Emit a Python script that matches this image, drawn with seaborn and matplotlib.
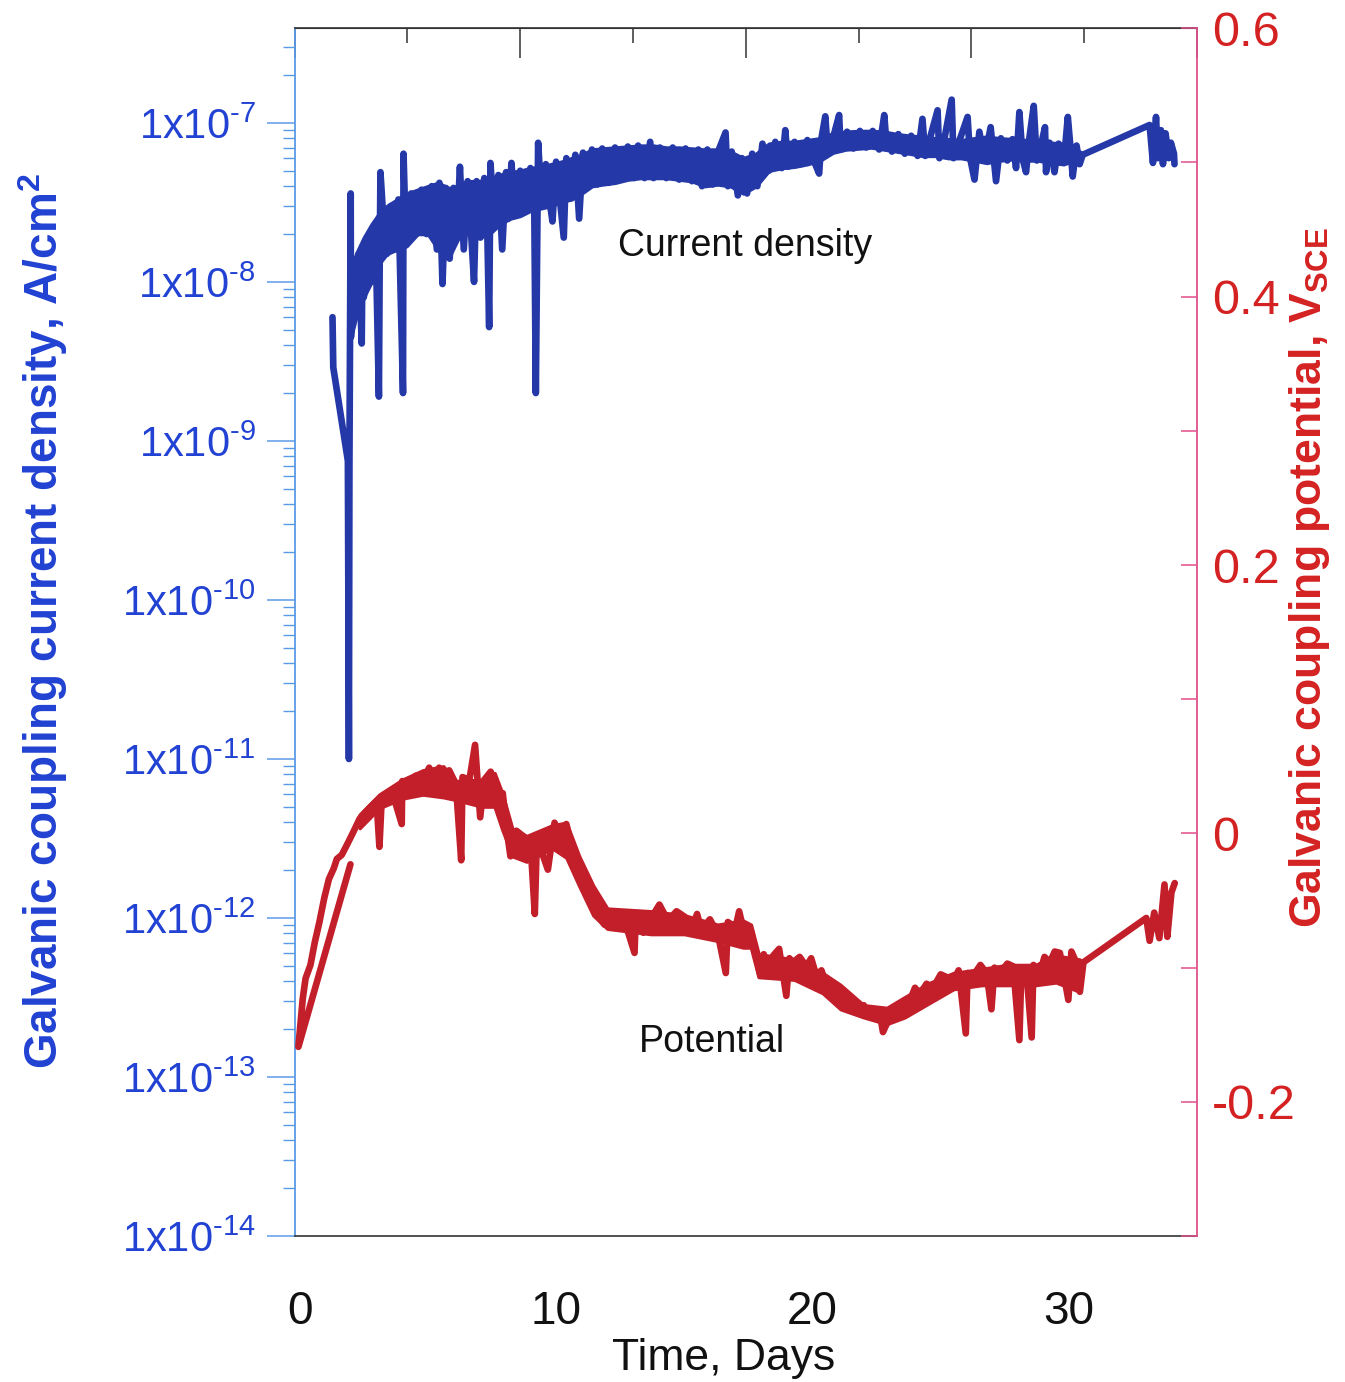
import matplotlib
matplotlib.use('Agg')
import matplotlib.pyplot as plt
import matplotlib.ticker as mticker
import numpy as np
import pandas as pd
import seaborn as sns

# ---------------------------------------------------------------------
# values

# galvanic coupling current density, A/cm2 (left axis, log) - the trace
cd_days = [1.28, 1.31, 1.88, 1.92, 1.94, 1.99, 2.00, 2.10, 2.20, 2.30,
           2.42, 2.45, 2.50, 2.65, 2.80, 2.95, 3.09, 3.12, 3.15, 3.25,
           3.40, 3.55, 3.70, 3.85, 4.03, 4.05, 4.15, 4.35, 4.55, 4.75,
           4.95, 5.15, 5.35, 5.45, 5.57, 5.70, 5.85, 6.00, 6.12, 6.25,
           6.40, 6.55, 6.68, 6.80, 6.90, 7.05, 7.20, 7.32, 7.39, 7.44,
           7.60, 7.75, 7.90, 8.05, 8.15, 8.26, 8.40, 8.60, 8.80, 9.00,
           9.15, 9.21, 9.30, 9.45, 9.60, 9.75, 9.86, 10.00, 10.15, 10.30,
           10.40, 10.60, 10.75, 10.90, 11.05, 11.20, 11.40, 11.60, 11.80, 12.05,
           12.30, 12.55, 12.80, 13.05, 13.20, 13.45, 13.67, 13.80, 14.05, 14.30,
           14.55, 14.80, 15.05, 15.30, 15.55, 15.69, 15.90, 16.10, 16.35, 16.61,
           16.70, 16.85, 17.09, 17.25, 17.45, 17.65, 17.85, 18.05, 18.30, 18.55,
           18.80, 18.94, 19.05, 19.30, 19.55, 19.80, 20.05, 20.26, 20.35, 20.50,
           20.60, 20.85, 21.04, 21.10, 21.35, 21.60, 21.85, 22.10, 22.35, 22.60,
           22.80, 22.85, 23.10, 23.35, 23.60, 23.85, 24.10, 24.29, 24.40, 24.60,
           24.88, 24.95, 25.15, 25.43, 25.50, 25.75, 26.05, 26.15, 26.32, 26.51,
           26.70, 26.95, 27.16, 27.35, 27.60, 27.80, 27.94, 28.07, 28.20, 28.33,
           28.45, 28.63, 28.75, 28.95, 29.07, 29.11, 29.25, 29.44, 29.60, 29.80,
           29.96, 30.05, 30.15, 30.30, 30.42, 30.54, 33.15, 33.28, 33.40, 33.47,
           33.59, 33.67, 33.77, 33.90, 33.98, 34.10, 34.12]
cd_vals = [6.0e-9, 2.9e-9, 7.5e-10, 1.0e-11, 7.0e-10, 3.6e-8, 4.5e-9, 1.2e-8, 6.0e-9, 1.5e-8,
           4.1e-9, 1.6e-8, 8.0e-9, 1.9e-8, 1.0e-8, 2.3e-8, 1.9e-9, 1.3e-8, 4.9e-8, 2.7e-8,
           1.5e-8, 3.0e-8, 1.6e-8, 3.3e-8, 2.0e-9, 6.4e-8, 1.7e-8, 3.6e-8, 2.0e-8, 3.8e-8,
           2.0e-8, 4.0e-8, 1.6e-8, 4.2e-8, 9.7e-9, 3.9e-8, 1.4e-8, 3.9e-8, 1.9e-8, 5.3e-8,
           1.6e-8, 4.3e-8, 2.1e-8, 1.0e-8, 4.3e-8, 1.9e-8, 4.5e-8, 2.0e-8, 5.2e-9, 5.6e-8,
           2.3e-8, 4.7e-8, 1.6e-8, 4.9e-8, 2.5e-8, 5.6e-8, 2.6e-8, 5.0e-8, 2.8e-8, 5.2e-8,
           2.9e-8, 2.0e-9, 7.5e-8, 3.0e-8, 5.5e-8, 3.2e-8, 2.4e-8, 5.7e-8, 3.3e-8, 1.9e-8,
           6.0e-8, 3.6e-8, 6.3e-8, 2.5e-8, 6.5e-8, 4.0e-8, 6.8e-8, 4.1e-8, 6.9e-8, 4.2e-8,
           7.0e-8, 4.4e-8, 7.1e-8, 4.5e-8, 7.2e-8, 4.5e-8, 7.6e-8, 4.5e-8, 7.0e-8, 4.5e-8,
           7.0e-8, 4.4e-8, 6.9e-8, 4.3e-8, 6.8e-8, 4.0e-8, 6.8e-8, 4.1e-8, 6.8e-8, 8.7e-8,
           4.0e-8, 6.6e-8, 3.5e-8, 6.0e-8, 3.6e-8, 6.4e-8, 4.0e-8, 7.4e-8, 5.0e-8, 7.6e-8,
           5.2e-8, 9.0e-8, 5.3e-8, 7.6e-8, 5.5e-8, 7.8e-8, 5.8e-8, 4.8e-8, 8.0e-8, 1.1e-7,
           6.5e-8, 8.6e-8, 1.12e-7, 6.8e-8, 8.8e-8, 6.9e-8, 8.9e-8, 7.0e-8, 8.9e-8, 6.8e-8,
           1.12e-7, 8.8e-8, 6.6e-8, 8.5e-8, 6.4e-8, 8.3e-8, 6.2e-8, 1.06e-7, 6.2e-8, 8.2e-8,
           1.2e-7, 6.0e-8, 8.0e-8, 1.4e-7, 6.0e-8, 7.9e-8, 1.09e-7, 6.0e-8, 4.4e-8, 8.8e-8,
           5.8e-8, 9.4e-8, 4.3e-8, 8.0e-8, 5.8e-8, 7.9e-8, 5.2e-8, 1.17e-7, 5.9e-8, 4.9e-8,
           7.8e-8, 1.28e-7, 5.8e-8, 7.7e-8, 9.4e-8, 4.9e-8, 7.5e-8, 4.9e-8, 7.4e-8, 5.6e-8,
           1.09e-7, 7.4e-8, 4.6e-8, 7.2e-8, 5.5e-8, 6.3e-8, 9.7e-8, 5.6e-8, 1.09e-7, 6.0e-8,
           9.0e-8, 5.5e-8, 8.6e-8, 6.0e-8, 7.5e-8, 6.4e-8, 5.5e-8]

# edges of the dense noise band of the current density
cd_band_days = [2.0, 2.2, 2.5, 2.8, 3.1, 3.4, 3.8, 4.2, 4.6, 5.0,
                5.4, 5.8, 6.2, 6.6, 7.0, 7.4, 7.8, 8.2, 8.6, 9.0,
                9.4, 9.8, 10.2, 10.6, 11.0, 11.4, 11.8, 12.3, 12.8, 13.3,
                13.8, 14.3, 14.8, 15.3, 15.8, 16.3, 16.8, 17.3, 17.8, 18.3,
                18.8, 19.3, 19.8, 20.3, 20.8, 21.3, 21.8, 22.3, 22.8, 23.3,
                23.8, 24.3, 24.8, 25.3, 25.8, 26.3, 26.8, 27.3, 27.8, 28.3,
                28.8, 29.3, 29.8, 30.5]
cd_band_hi = [1.2e-8, 1.5e-8, 1.9e-8, 2.3e-8, 2.7e-8, 3.0e-8, 3.3e-8, 3.6e-8, 3.8e-8, 4.0e-8,
              4.2e-8, 3.9e-8, 3.9e-8, 4.3e-8, 4.3e-8, 4.5e-8, 4.7e-8, 4.9e-8, 5.0e-8, 5.2e-8,
              5.3e-8, 5.5e-8, 5.7e-8, 6.0e-8, 6.3e-8, 6.8e-8, 6.9e-8, 7.0e-8, 7.1e-8, 7.2e-8,
              7.2e-8, 7.0e-8, 7.0e-8, 6.9e-8, 6.8e-8, 6.8e-8, 6.6e-8, 6.0e-8, 6.4e-8, 7.4e-8,
              7.6e-8, 7.6e-8, 7.8e-8, 8.0e-8, 8.6e-8, 8.8e-8, 8.9e-8, 8.9e-8, 8.8e-8, 8.5e-8,
              8.3e-8, 8.2e-8, 8.0e-8, 7.9e-8, 7.8e-8, 8.0e-8, 8.2e-8, 8.0e-8, 7.9e-8, 7.8e-8,
              7.7e-8, 7.5e-8, 7.4e-8, 6.5e-8]
cd_band_lo = [4.5e-9, 6.0e-9, 8.0e-9, 1.0e-8, 1.3e-8, 1.5e-8, 1.6e-8, 1.7e-8, 2.0e-8, 2.0e-8,
              1.6e-8, 1.4e-8, 1.9e-8, 2.1e-8, 1.9e-8, 2.0e-8, 2.3e-8, 2.5e-8, 2.6e-8, 2.8e-8,
              2.9e-8, 3.0e-8, 3.2e-8, 3.3e-8, 3.6e-8, 4.0e-8, 4.1e-8, 4.2e-8, 4.4e-8, 4.5e-8,
              4.5e-8, 4.5e-8, 4.4e-8, 4.3e-8, 4.0e-8, 4.1e-8, 4.0e-8, 3.6e-8, 4.0e-8, 5.0e-8,
              5.2e-8, 5.3e-8, 5.5e-8, 5.8e-8, 6.5e-8, 6.8e-8, 6.9e-8, 7.0e-8, 6.8e-8, 6.6e-8,
              6.4e-8, 6.2e-8, 6.2e-8, 6.0e-8, 6.0e-8, 5.8e-8, 5.6e-8, 5.8e-8, 5.9e-8, 5.8e-8,
              5.8e-8, 5.6e-8, 5.5e-8, 6.0e-8]

# galvanic coupling potential, V_SCE (right axis) - the trace
pot_days = [1.98, -0.05, 0.12, 0.23, 0.42, 0.59, 0.77, 0.96, 1.14, 1.33,
            1.45, 1.64, 1.83, 2.09, 2.34, 2.72, 3.00, 3.11, 3.20, 3.49,
            3.70, 3.98, 4.00, 4.30, 4.53, 4.80, 5.05, 5.25, 5.44, 5.65,
            5.83, 6.09, 6.30, 6.35, 6.62, 6.84, 7.04, 7.20, 7.45, 7.70,
            7.92, 8.06, 8.22, 8.45, 8.72, 9.00, 9.17, 9.25, 9.41, 9.68,
            9.94, 10.20, 10.40, 10.60, 10.86, 11.10, 11.36, 11.63, 11.89, 12.15,
            12.41, 12.75, 13.06, 13.10, 13.40, 13.71, 14.03, 14.36, 14.70, 15.01,
            15.30, 15.50, 15.66, 16.00, 16.31, 16.62, 16.70, 17.00, 17.14, 17.35,
            17.59, 17.97, 18.10, 18.20, 18.47, 18.70, 18.98, 19.10, 19.24, 19.50,
            19.76, 19.95, 20.15, 20.35, 20.54, 20.80, 21.06, 21.32, 21.50, 21.71,
            22.00, 22.20, 22.36, 22.60, 22.75, 23.01, 23.20, 23.40, 23.60, 23.79,
            24.00, 24.18, 24.45, 24.71, 25.00, 25.23, 25.49, 25.70, 25.98, 26.05,
            26.27, 26.55, 26.79, 26.98, 27.10, 27.31, 27.60, 27.83, 28.07, 28.15,
            28.35, 28.55, 28.62, 28.87, 29.05, 29.26, 29.45, 29.65, 29.98, 30.10,
            30.24, 30.43, 30.57, 33.02, 33.15, 33.33, 33.53, 33.73, 33.84, 34.00,
            34.13]
pot_vals = [-0.023, -0.159, -0.123, -0.108, -0.098, -0.081, -0.066, -0.048, -0.034, -0.026,
            -0.019, -0.016, -0.009, 0.001, 0.011, 0.019, 0.024, -0.010, 0.026, 0.031,
            0.025, 0.007, 0.039, 0.034, 0.043, 0.038, 0.049, 0.040, 0.049, 0.041,
            0.047, 0.037, -0.020, 0.042, 0.040, 0.066, 0.012, 0.040, 0.046, 0.025,
            0.030, 0.005, -0.017, 0.002, -0.002, -0.006, -0.060, -0.005, -0.012, -0.027,
            0.008, -0.005, 0.007, -0.009, -0.021, -0.039, -0.048, -0.061, -0.068, -0.058,
            -0.063, -0.070, -0.089, -0.065, -0.074, -0.063, -0.053, -0.065, -0.058, -0.062,
            -0.070, -0.060, -0.072, -0.064, -0.075, -0.104, -0.066, -0.070, -0.058, -0.075,
            -0.072, -0.106, -0.090, -0.104, -0.091, -0.086, -0.121, -0.093, -0.096, -0.092,
            -0.099, -0.093, -0.106, -0.102, -0.113, -0.111, -0.121, -0.128, -0.124, -0.130,
            -0.128, -0.136, -0.133, -0.131, -0.148, -0.137, -0.132, -0.135, -0.126, -0.125,
            -0.115, -0.120, -0.112, -0.115, -0.105, -0.107, -0.110, -0.102, -0.149, -0.104,
            -0.106, -0.098, -0.104, -0.131, -0.100, -0.104, -0.097, -0.099, -0.154, -0.100,
            -0.104, -0.152, -0.098, -0.104, -0.092, -0.096, -0.088, -0.089, -0.124, -0.088,
            -0.094, -0.118, -0.096, -0.063, -0.080, -0.059, -0.078, -0.038, -0.077, -0.044,
            -0.037]

# edges of the noise band of the potential
pot_band_days = [2.34, 3.11, 4.0, 4.8, 5.6, 6.1, 7.1, 7.6, 7.9, 8.3,
                 8.85, 9.85, 10.4, 10.9, 11.45, 12.0, 13.7, 15.0, 16.3, 17.3,
                 17.6, 17.9, 19.3, 20.4, 21.1, 22.0, 22.9, 23.6, 24.5, 25.5,
                 26.6, 27.6, 28.7, 29.5, 30.43]
pot_band_hi = [0.014, 0.029, 0.040, 0.047, 0.050, 0.039, 0.040, 0.045, 0.030, 0.003,
               -0.002, 0.006, 0.008, -0.017, -0.039, -0.056, -0.058, -0.061, -0.068, -0.065,
               -0.068, -0.090, -0.094, -0.104, -0.113, -0.128, -0.130, -0.122, -0.112, -0.104,
               -0.101, -0.098, -0.098, -0.091, -0.094]
pot_band_lo = [0.004, 0.019, 0.026, 0.029, 0.027, 0.025, 0.020, 0.020, 0.003, -0.017,
               -0.021, -0.011, -0.018, -0.039, -0.061, -0.071, -0.075, -0.075, -0.080, -0.085,
               -0.085, -0.107, -0.109, -0.119, -0.131, -0.137, -0.142, -0.137, -0.127, -0.116,
               -0.113, -0.113, -0.113, -0.111, -0.118]

x_major = [0, 10, 20, 30]
x_minor = [5, 15, 25, 35]
cd_ticks = [1e-14, 1e-13, 1e-12, 1e-11, 1e-10, 1e-9, 1e-8, 1e-7]
cd_labels = [r'$\mathregular{1x10^{\text{-}%d}}$' % e for e in range(14, 6, -1)]
pot_ticks = [-0.2, 0.0, 0.2, 0.4, 0.6]
pot_labels = ['-0.2', '0', '0.2', '0.4', '0.6']
pot_minor = [-0.3, -0.1, 0.1, 0.3, 0.5]

cd_df = pd.DataFrame({'day': cd_days, 'cd': cd_vals})
pot_df = pd.DataFrame({'day': pot_days, 'pot': pot_vals})

# ---------------------------------------------------------------------
sns.set_style('white')
plt.rcParams['font.family'] = ['Liberation Sans', 'DejaVu Sans']
plt.rcParams['mathtext.fontset'] = 'custom'
plt.rcParams['mathtext.rm'] = 'Liberation Sans'
plt.rcParams['mathtext.it'] = 'Liberation Sans:italic'
plt.rcParams['mathtext.bf'] = 'Liberation Sans:bold'
plt.rcParams['axes.unicode_minus'] = False

blue_line = '#2438a8'
red_line = '#c21f2a'
blue_txt = '#2142d2'
red_txt = '#d42222'

fig = plt.figure(figsize=(13.45, 13.82), dpi=100)
ax = fig.add_axes([0.219, 0.1056, 0.671, 0.874])
ax2 = ax.twinx()

ax.fill_between(cd_band_days, cd_band_lo, cd_band_hi, color=blue_line, linewidth=2.5)
sns.lineplot(data=cd_df, x='day', y='cd', ax=ax, sort=False, estimator=None,
             color=blue_line, linewidth=4.8, solid_capstyle='round')
ax2.fill_between(pot_band_days, pot_band_lo, pot_band_hi, color=red_line, linewidth=2.5)
sns.lineplot(data=pot_df, x='day', y='pot', ax=ax2, sort=False, estimator=None,
             color=red_line, linewidth=4.8, solid_capstyle='round')

ax.set_xlim(-0.2, 35)
ax.set_yscale('log')
ax.set_ylim(1e-14, 3.94e-7)
ax2.set_ylim(-0.3, 0.6)

# left axis
ax.yaxis.set_major_locator(mticker.FixedLocator(cd_ticks))
ax.yaxis.set_major_formatter(mticker.FixedFormatter(cd_labels))
ax.yaxis.set_minor_locator(mticker.LogLocator(base=10, subs=np.arange(2, 10), numticks=30))
ax.yaxis.set_minor_formatter(mticker.NullFormatter())
ax.tick_params(axis='y', which='major', direction='out', length=20, width=1.1,
               color='#5b9be6', labelsize=30, labelcolor=blue_txt, pad=8, right=False)
ax.tick_params(axis='y', which='minor', direction='out', length=9, width=1.0,
               color='#5b9be6', right=False)

# bottom axis
ax.set_xticks(x_major)
ax.set_xticklabels([str(v) for v in x_major])
ax.set_xticks(x_minor, minor=True)
ax.tick_params(axis='x', which='major', direction='out', length=21.6, width=1.1,
               color='#445', labelsize=33, labelcolor='#111', pad=17, top=False)
ax.tick_params(axis='x', which='minor', direction='out', length=10.8, width=1.1,
               color='#445', top=False)

# top axis carries its own unlabeled ticks
top = ax.secondary_xaxis('top', functions=(lambda d: (d + 0.2) * 8 / 35.2,
                                           lambda t: t * 35.2 / 8 - 0.2))
top.set_xticks([0, 2, 4, 6, 8])
top.set_xticks([1, 3, 5, 7], minor=True)
top.tick_params(which='major', direction='in', length=21.6, width=1.1, color='#333',
                labeltop=False)
top.tick_params(which='minor', direction='in', length=10.8, width=1.1, color='#333')
top.spines['top'].set_color('#333')

# right axis
ax2.set_yticks(pot_ticks)
ax2.set_yticklabels(pot_labels)
ax2.set_yticks(pot_minor, minor=True)
ax2.tick_params(axis='y', which='both', direction='in', length=11.5, width=1.1,
                color='#e0508a', labelsize=35, labelcolor=red_txt, pad=11)

for s in ['top', 'bottom']:
    ax.spines[s].set_color('#333')
    ax.spines[s].set_linewidth(1.2)
ax.spines['left'].set_color('#5b9be6')
ax.spines['left'].set_linewidth(1.3)
ax.spines['right'].set_visible(False)
for s in ['left', 'top', 'bottom']:
    ax2.spines[s].set_visible(False)
ax2.spines['right'].set_color('#e0508a')
ax2.spines['right'].set_linewidth(1.3)

# labels
ax.set_xlabel('Time, Days', fontsize=32, color='#111', labelpad=3, x=0.475)
ax.set_ylabel('Galvanic coupling current density, A/cm$^\\mathregular{2}$',
              fontsize=33, fontweight='bold', color=blue_txt)
ax.yaxis.set_label_coords(-0.249, 0.509)
ax2.set_ylabel('Galvanic coupling potential, V$_\\mathregular{SCE}$',
               fontsize=32, fontweight='bold', color=red_txt)
ax2.yaxis.set_label_coords(1.100, 0.545)

ax.text(0.499, 0.820, 'Current density', transform=ax.transAxes,
        fontsize=27, color='#111', ha='center', va='center')
ax.text(0.463, 0.161, 'Potential', transform=ax.transAxes,
        fontsize=27, color='#111', ha='center', va='center')

fig.savefig('out.png', dpi=100)
